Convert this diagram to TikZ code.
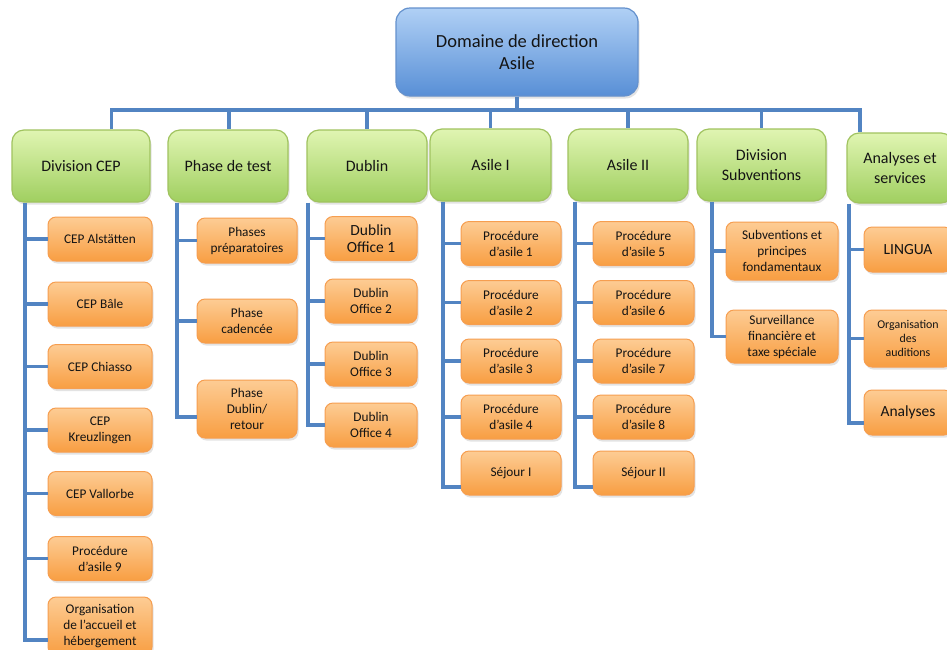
\documentclass[tikz,border=0pt]{standalone}
\usepackage{fontspec}
\setmainfont{Carlito}
\usetikzlibrary{shadows,calc}
\definecolor{lineblue}{RGB}{82,132,194}
\definecolor{toptop}{RGB}{176,208,245}
\definecolor{topbot}{RGB}{88,143,214}
\definecolor{topborder}{RGB}{100,145,205}
\definecolor{grtop}{RGB}{224,245,178}
\definecolor{grbot}{RGB}{160,207,96}
\definecolor{grborder}{RGB}{160,195,95}
\definecolor{ortop}{RGB}{253,204,148}
\definecolor{orbot}{RGB}{248,158,66}
\definecolor{orborder}{RGB}{246,158,80}
\definecolor{txt}{RGB}{20,20,20}
\begin{document}
\begin{tikzpicture}[x=1pt,y=-1pt,
  conn/.style={draw=lineblue, line width=3.2pt},
  shad/.style={drop shadow={opacity=0.22, shadow xshift=1.5pt, shadow yshift=-2.5pt}},
  topbox/.style={shad, draw=topborder, line width=1.2pt, rounded corners=14pt,
    top color=toptop, bottom color=topbot, minimum width=242pt, minimum height=88pt,
    inner sep=0pt, align=center, text=txt, font=\fontsize{18.5}{21.7}\selectfont},
  grbox/.style={shad, draw=grborder, line width=1.2pt, rounded corners=12pt,
    top color=grtop, bottom color=grbot, minimum height=72pt,
    inner sep=0pt, align=center, text=txt, font=\fontsize{16}{19.3}\selectfont},
  orbox/.style={shad, draw=orborder, line width=1pt, rounded corners=8pt,
    top color=ortop, bottom color=orbot,
    inner sep=0pt, align=center, text=txt, font=\fontsize{13.3}{16}\selectfont},
  orbig/.style={orbox, font=\fontsize{15.5}{17.5}\selectfont},
  orsmall/.style={orbox, font=\fontsize{11.9}{13.8}\selectfont}
]
\clip (0,0) rectangle (947,649);
\fill[white] (0,0) rectangle (947,649);

% top
\node[topbox] (top) at (517,52) {Domaine de direction\\Asile};

% green boxes
\node[grbox, minimum width=138pt] (gCEP) at (81,166) {Division CEP};
\node[grbox, minimum width=120pt] (gTest) at (228,166) {Phase de test};
\node[grbox, minimum width=120pt] (gDub) at (367,166) {Dublin};
\node[grbox, minimum width=121pt] (gA1) at (490.5,165) {Asile I};
\node[grbox, minimum width=120pt] (gA2) at (628,165) {Asile II};
\node[grbox, minimum width=129pt] (gSub) at (761.5,165) {Division\\Subventions};
\node[grbox, minimum width=106pt, minimum height=70pt] (gAna) at (900,168) {Analyses et\\services};

% Division CEP children
\begin{scope}[every node/.append style={minimum width=104pt, minimum height=44pt}]
\node[orbox] (c1) at (100,239) {CEP Alstätten};
\node[orbox] (c2) at (100,304) {CEP Bâle};
\node[orbox] (c3) at (100,366.5) {CEP Chiasso};
\node[orbox] (c4) at (100,430) {CEP\\Kreuzlingen};
\node[orbox] (c5) at (100,493.5) {CEP Vallorbe};
\node[orbox] (c6) at (100,558.5) {Procédure\\d’asile 9};
\node[orbox, minimum height=58pt] (c7) at (100,626) {Organisation\\de l’accueil et\\hébergement};
\end{scope}

% Phase de test children
\begin{scope}[every node/.append style={minimum width=100pt, minimum height=44pt}]
\node[orbox, minimum height=45pt] (t1) at (247,240.5) {Phases\\préparatoires};
\node[orbox] (t2) at (247,321) {Phase\\cadencée};
\node[orbox, minimum height=58pt] (t3) at (247,409) {Phase\\Dublin/\\retour};
\end{scope}

% Dublin children
\begin{scope}[every node/.append style={minimum width=92pt, minimum height=44pt}]
\node[orbig] (d1) at (371,238.5) {Dublin\\Office 1};
\node[orbox] (d2) at (371,301) {Dublin\\Office 2};
\node[orbox] (d3) at (371,364) {Dublin\\Office 3};
\node[orbox] (d4) at (371,425) {Dublin\\Office 4};
\end{scope}

% Asile I children
\begin{scope}[every node/.append style={minimum width=100pt, minimum height=44pt}]
\node[orbox] (a1) at (511,243.5) {Procédure\\d’asile 1};
\node[orbox] (a2) at (511,302.5) {Procédure\\d’asile 2};
\node[orbox] (a3) at (511,361) {Procédure\\d’asile 3};
\node[orbox] (a4) at (511,417) {Procédure\\d’asile 4};
\node[orbox] (a5) at (511,473) {Séjour I};
\end{scope}

% Asile II children
\begin{scope}[every node/.append style={minimum width=101pt, minimum height=44pt}]
\node[orbox] (b1) at (643.5,243.5) {Procédure\\d’asile 5};
\node[orbox] (b2) at (643.5,302.5) {Procédure\\d’asile 6};
\node[orbox] (b3) at (643.5,361) {Procédure\\d’asile 7};
\node[orbox] (b4) at (643.5,417) {Procédure\\d’asile 8};
\node[orbox] (b5) at (643.5,473) {Séjour II};
\end{scope}

% Subventions children
\begin{scope}[every node/.append style={minimum width=112pt}]
\node[orbox, minimum height=58pt] (s1) at (782,251) {Subventions et\\principes\\fondamentaux};
\node[orbox, minimum height=53pt] (s2) at (782,336.5) {Surveillance\\financière et\\taxe spéciale};
\end{scope}

% Analyses children
\begin{scope}[every node/.append style={minimum width=88pt}]
\node[orbig, minimum height=45pt] (n1) at (908,249.5) {LINGUA};
\node[orsmall, minimum height=57pt] (n2) at (908,338.5) {Organisation\\des\\auditions};
\node[orbig, minimum height=45pt] (n3) at (908,412.5) {Analyses};
\end{scope}

% ---- connectors ----
\coordinate (sL) at (111.5,110);
\coordinate (sR) at (860,110);
\draw[conn] (top.south) -- (top.south |- sL);
\draw[conn] (gCEP.north -| sL) -- (sL) -- (sR) -- (gAna.north -| sR);
\coordinate (sT) at (229,110);
\draw[conn] (sT) -- (sT |- gTest.north);
\draw[conn] (gDub.north |- sL) -- (gDub.north);
\draw[conn] (gA1.north |- sL) -- (gA1.north);
\draw[conn] (gA2.north |- sL) -- (gA2.north);
\draw[conn] (gSub.north |- sL) -- (gSub.north);

% Division CEP column
\coordinate (vC) at (25,0);
\draw[conn] (vC |- gCEP.south) -- ($(vC |- c7.west)+(0,14)$) -- ($(c7.west)+(0,14)$);
\foreach \n in {c1,c2,c3,c4,c5,c6} \draw[conn] (vC |- \n.west) -- (\n.west);

% Phase de test column
\coordinate (vT) at (177,0);
\draw[conn] (vT |- gTest.south) -- ($(vT |- t3.west)+(0,8)$) -- ($(t3.west)+(0,8)$);
\foreach \n in {t1,t2} \draw[conn] (vT |- \n.west) -- (\n.west);

% Dublin column
\coordinate (vD) at (308,0);
\draw[conn] (vD |- gDub.south) -- (vD |- d4.west) -- (d4.west);
\foreach \n in {d1,d2,d3} \draw[conn] (vD |- \n.west) -- (\n.west);

% Asile I column
\coordinate (vA) at (443,0);
\draw[conn] (vA |- gA1.south) -- ($(vA |- a5.west)+(0,14)$) -- ($(a5.west)+(0,14)$);
\foreach \n in {a1,a2,a3,a4} \draw[conn] (vA |- \n.west) -- (\n.west);

% Asile II column
\coordinate (vB) at (575,0);
\draw[conn] (vB |- gA2.south) -- ($(vB |- b5.west)+(0,14)$) -- ($(b5.west)+(0,14)$);
\foreach \n in {b1,b2,b3,b4} \draw[conn] (vB |- \n.west) -- (\n.west);

% Subventions column
\coordinate (vS) at (712,0);
\draw[conn] (vS |- gSub.south) -- (vS |- s2.west) -- (s2.west);
\draw[conn] (vS |- s1.west) -- (s1.west);

% Analyses column
\coordinate (vN) at (849,0);
\draw[conn] (vN |- gAna.south) -- ($(vN |- n3.west)+(0,10.5)$) -- ($(n3.west)+(0,10.5)$);
\foreach \n in {n1,n2} \draw[conn] (vN |- \n.west) -- (\n.west);
\end{tikzpicture}
\end{document}
